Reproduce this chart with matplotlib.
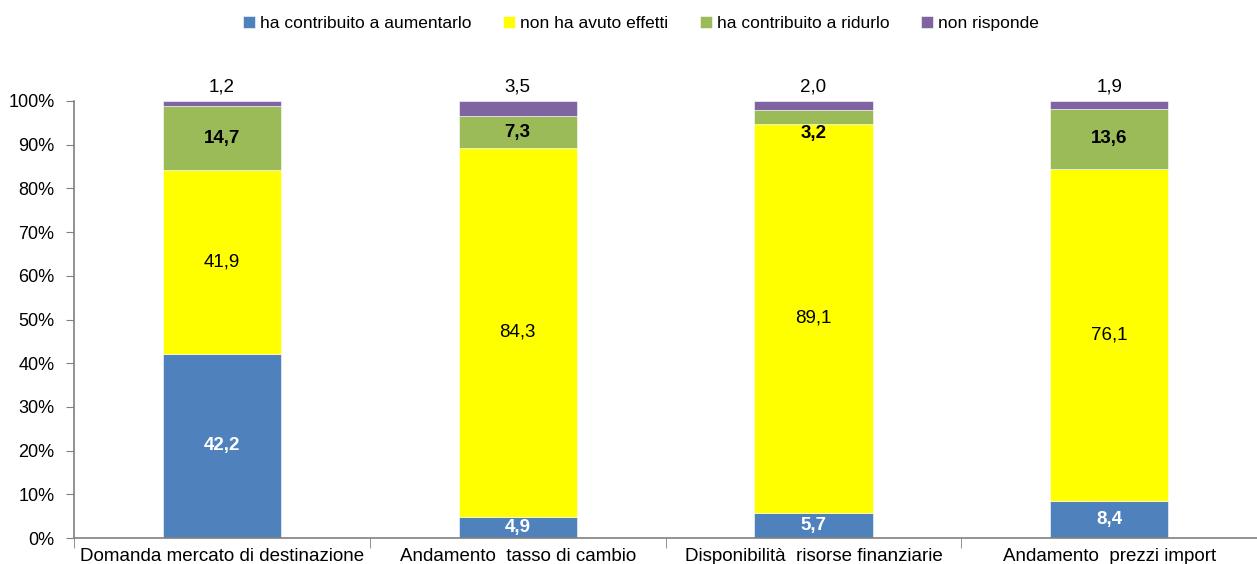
import numpy as np
import matplotlib.pyplot as plt
from matplotlib.ticker import FixedLocator, NullFormatter

plt.rcParams['font.family'] = ['Liberation Sans Narrow', 'Liberation Sans', 'DejaVu Sans']

categories = ['Domanda mercato di destinazione', 'Andamento  tasso di cambio',
              'Disponibilità  risorse finanziarie', 'Andamento  prezzi import']
series = ['ha contribuito a aumentarlo', 'non ha avuto effetti',
          'ha contribuito a ridurlo', 'non risponde']
aumentarlo = [42.2, 4.9, 5.7, 8.4]
nessun_effetto = [41.9, 84.3, 89.1, 76.1]
ridurlo = [14.7, 7.3, 3.2, 13.6]
non_risponde = [1.2, 3.5, 2.0, 1.9]

colors = ['#4F81BD', '#FFFF00', '#9BBB59', '#8064A2']

def fmt(v):
    return f'{v:.1f}'.replace('.', ',')

fig = plt.figure(figsize=(12.57, 5.64), dpi=100)
ax = fig.add_axes([0.0589, 0.046, 0.9411, 0.775])

x = np.arange(len(categories))
width = 0.40
bottom = np.zeros(len(categories))
for vals, col, name in zip([aumentarlo, nessun_effetto, ridurlo, non_risponde], colors, series):
    vals = np.array(vals)
    ax.bar(x, vals, width, bottom=bottom, color=col, label=name,
           edgecolor='white', linewidth=0.4)
    for xi, b, v in zip(x, bottom, vals):
        if name == series[0]:
            ax.text(xi, b + v / 2, fmt(v), ha='center', va='center',
                    color='white', fontsize=13.5, fontweight='bold')
        elif name == series[1]:
            ax.text(xi, b + v / 2, fmt(v), ha='center', va='center',
                    color='black', fontsize=13.5)
        elif name == series[2]:
            if v < 5:
                # too thin to hold the label: hang it below the segment
                ax.text(xi, b - 0.3, fmt(v), ha='center', va='top',
                        color='black', fontsize=13.5, fontweight='bold')
            else:
                ax.text(xi, b + v / 2, fmt(v), ha='center', va='center',
                        color='black', fontsize=13.5, fontweight='bold')
        else:
            ax.text(xi, b + v + 1.2, fmt(v), ha='center', va='bottom',
                    color='black', fontsize=13.5)
    bottom += vals

ax.set_xlim(-0.5, len(categories) - 0.5)
ax.set_ylim(0, 100)
ax.set_yticks(np.arange(0, 101, 10))
ax.set_yticklabels([f'{t}%' for t in range(0, 101, 10)], fontsize=13)

ax.set_xticks(x)
ax.set_xticklabels(categories, fontsize=13.5)
ax.tick_params(axis='x', which='major', length=0, pad=7)
ax.xaxis.set_minor_locator(FixedLocator(np.arange(-0.5, len(categories), 1.0)))
ax.xaxis.set_minor_formatter(NullFormatter())
ax.tick_params(axis='x', which='minor', length=7, color='#808080')
ax.tick_params(axis='y', length=6, color='#808080', pad=8)

for s in ['top', 'right']:
    ax.spines[s].set_visible(False)
for s in ['left', 'bottom']:
    ax.spines[s].set_color('#808080')
    ax.spines[s].set_linewidth(1.2)

fig.legend(loc='upper center', bbox_to_anchor=(0.51, 1.0), ncol=4, frameon=False,
           fontsize=12.5, handlelength=0.7, handleheight=0.7, handletextpad=0.3,
           columnspacing=1.8)

fig.savefig('out.png', dpi=100)
